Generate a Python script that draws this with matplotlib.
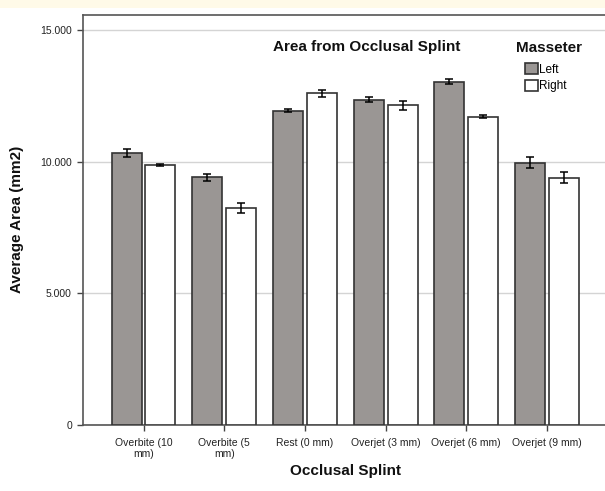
import matplotlib.pyplot as plt
import matplotlib.patches as mpatches
from matplotlib.ticker import FuncFormatter
import numpy as np

plt.rcParams['font.family'] = ['Liberation Sans', 'DejaVu Sans']

# mean area per splint position, left / right masseter, with error bar half-widths
categories = ["Overbite (10\nmm)", "Overbite (5\nmm)", "Rest (0 mm)",
              "Overjet (3 mm)", "Overjet (6 mm)", "Overjet (9 mm)"]
left_mean = [10330, 9405, 11930, 12360, 13030, 9962]
left_err = [150, 130, 60, 95, 95, 215]
right_mean = [9875, 8246, 12590, 12140, 11705, 9394]
right_err = [50, 180, 125, 180, 50, 210]
series_names = ["Left", "Right"]

W, H = 605, 491
fig = plt.figure(figsize=(W / 100, H / 100), dpi=100)

# pale strip along the top edge
fig.patches.append(mpatches.Rectangle((0, 1 - 8 / H), 1, 8 / H, transform=fig.transFigure,
                                      facecolor='#fffae8', edgecolor='none', zorder=0))

ax_left, ax_right, ax_top, ax_bot = 83, 607.5, 15, 425
ax = fig.add_axes([ax_left / W, 1 - ax_bot / H, (ax_right - ax_left) / W, (ax_bot - ax_top) / H])

x = np.arange(len(categories))
bw = 0.372
off = 0.21
gray = '#9a9694'
edge = '#333333'

ax.bar(x - off, left_mean, bw, color=gray, edgecolor=edge, linewidth=1.2, zorder=3, label=series_names[0])
ax.bar(x + off, right_mean, bw, color='white', edgecolor=edge, linewidth=1.2, zorder=3, label=series_names[1])
ax.errorbar(x - off, left_mean, yerr=left_err, fmt='none', ecolor='black', elinewidth=1.1,
            capsize=2.6, capthick=1.1, zorder=4)
ax.errorbar(x + off, right_mean, yerr=right_err, fmt='none', ecolor='black', elinewidth=1.1,
            capsize=2.6, capthick=1.1, zorder=4)

ax.set_xlim(-0.75, 5.75)
ax.set_ylim(0, 15571)
ax.set_yticks([0, 5000, 10000, 15000])
ax.yaxis.set_major_formatter(FuncFormatter(lambda v, p: f"{int(v):,}".replace(',', '.')))
ax.set_xticks(x)
ax.set_xticklabels(categories, fontsize=7.5, linespacing=1.2)
ax.tick_params(axis='y', labelsize=7.5, length=4.5, width=1.0, color='#444444',
               labelcolor='#222222', pad=3.5)
ax.tick_params(axis='x', length=4.5, width=1.0, color='#444444', labelcolor='#222222', pad=4.5)

ax.grid(axis='y', color='#d4d4d4', linewidth=1.0, zorder=0)
ax.set_axisbelow(True)
for s in ax.spines.values():
    s.set_color('#555555')
    s.set_linewidth(1.2)

fig.text(17 / W, 1 - 219 / H, "Average Area (mm2)", rotation=90, ha='center', va='center',
         fontsize=11, fontweight='bold', color='#111111')
fig.text(345 / W, 1 - 471 / H, "Occlusal Splint", ha='center', va='center',
         fontsize=11, fontweight='bold', color='#111111')
fig.text(366.7 / W, 1 - 46.7 / H, "Area from Occlusal Splint", ha='center', va='center',
         fontsize=11, fontweight='bold', color='#111111')
fig.text(549 / W, 1 - 48 / H, "Masseter", ha='center', va='center',
         fontsize=11, fontweight='bold', color='#111111')

ax.legend(loc='upper left', bbox_to_anchor=(525 / W, 1 - 63 / H),
          bbox_transform=fig.transFigure, frameon=False, fontsize=8.5,
          handlelength=1.1, handleheight=1.1, handletextpad=0.12, labelspacing=0.34,
          borderpad=0, borderaxespad=0)

fig.savefig('out.png', dpi=100)
